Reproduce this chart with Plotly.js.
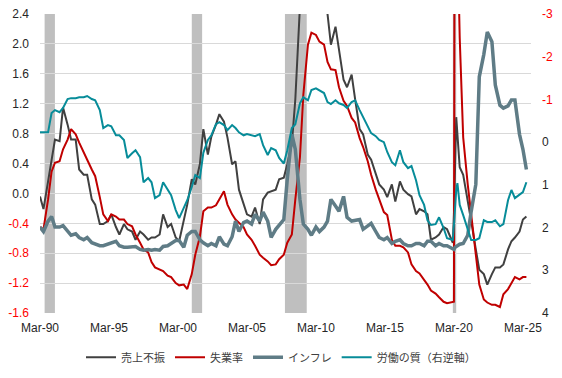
<!DOCTYPE html>
<html>
<head>
<meta charset="utf-8">
<script src="https://cdn.plot.ly/plotly-3.0.1.min.js"></script>
<style>html,body{margin:0;padding:0;background:#fff;}#chart{width:562px;height:378px;}</style>
</head>
<body>
<div id="chart"></div>
<script>
// ---- Data ----
const dates = [
 "1990-03","1990-06","1990-10","1991-01","1991-04","1991-08","1991-11","1992-03","1992-06","1992-10",
 "1993-01","1993-05","1993-08","1993-12","1994-03","1994-07","1994-10","1995-02","1995-05","1995-09",
 "1995-12","1996-04","1996-07","1996-11","1997-02","1997-06","1997-09","1998-01","1998-04","1998-07",
 "1998-11","1999-02","1999-06","1999-09","2000-01","2000-04","2000-08","2000-11","2001-03","2001-06",
 "2001-10","2002-01","2002-05","2002-08","2002-12","2003-03","2003-07","2003-10","2004-02","2004-05",
 "2004-08","2004-12","2005-03","2005-07","2005-10","2006-02","2006-05","2006-09","2006-12","2007-04",
 "2007-07","2007-11","2008-02","2008-06","2008-09","2009-01","2009-04","2009-08","2009-11","2010-03",
 "2010-06","2010-10","2011-01","2011-04","2011-08","2011-11","2012-03","2012-06","2012-10","2013-01",
 "2013-05","2013-08","2013-12","2014-03","2014-07","2014-10","2015-02","2015-05","2015-09","2015-12",
 "2016-04","2016-07","2016-11","2017-02","2017-06","2017-09","2018-01","2018-04","2018-07","2018-11",
 "2019-02","2019-06","2019-09","2020-02","2020-03","2020-04","2020-05","2020-06","2020-07","2020-08",
 "2020-11","2021-03","2021-06","2021-10","2022-01","2022-05","2022-08","2022-12","2023-03","2023-07",
 "2023-10","2024-02","2024-05","2024-08","2024-12","2025-03","2025-06"
];

const salesWeak = [
 -0.04,-0.21,0.16,0.45,0.72,0.70,1.15,0.92,0.72,0.72,
 0.32,0.25,0.25,-0.08,-0.15,-0.41,-0.41,-0.37,-0.28,-0.45,
 -0.55,-0.41,-0.48,-0.51,-0.62,-0.51,-0.55,-0.62,-0.59,-0.59,
 -0.55,-0.28,-0.45,-0.41,-0.59,-0.64,-0.37,-0.15,0.19,0.12,
 0.39,0.86,0.52,0.76,0.92,1.06,0.96,0.75,0.39,0.43,
 0.05,-0.15,-0.28,-0.31,-0.19,-0.41,-0.08,0.01,0.03,0.05,
 0.19,0.21,0.39,0.66,1.26,2.5,2.9,3.2,3.3,3.1,
 2.9,2.65,2.4,1.99,2.23,1.93,1.52,1.42,1.59,1.26,
 0.86,0.79,0.52,0.45,0.25,0.12,0.05,-0.05,0.12,-0.11,
 0.16,0.05,-0.01,-0.04,-0.28,-0.21,-0.24,-0.28,-0.62,-0.59,
 -0.55,-0.45,-0.48,-0.66,-0.28,0.68,1.02,0.79,0.58,0.35,
 0.25,-0.08,-0.37,-0.75,-1.02,-1.08,-1.22,-1.08,-0.99,-0.99,
 -0.95,-0.75,-0.64,-0.59,-0.51,-0.35,-0.31
];

const unemployment = [
 -0.45,-0.48,-0.08,0.29,0.41,0.43,0.59,0.72,0.86,0.79,
 0.68,0.56,0.45,0.32,0.23,-0.05,-0.28,-0.37,-0.28,-0.31,
 -0.35,-0.35,-0.41,-0.44,-0.55,-0.66,-0.75,-0.79,-0.92,-0.99,
 -1.02,-1.04,-1.10,-1.12,-1.20,-1.23,-1.22,-1.28,-1.08,-0.82,
 -0.58,-0.24,-0.19,-0.19,-0.16,-0.08,0.03,-0.15,-0.28,-0.35,
 -0.39,-0.45,-0.55,-0.62,-0.70,-0.82,-0.86,-0.91,-0.96,-0.95,
 -0.88,-0.82,-0.66,-0.55,-0.08,0.48,1.32,1.99,2.15,2.12,
 2.03,1.99,1.76,1.66,1.65,1.42,1.24,1.17,1.01,0.95,
 0.74,0.62,0.43,0.25,0.05,-0.08,-0.25,-0.29,-0.62,-0.70,
 -0.70,-0.72,-0.79,-0.95,-1.04,-1.07,-1.15,-1.22,-1.30,-1.34,
 -1.39,-1.45,-1.47,-1.46,-1.45,9.0,6.0,4.0,2.8,2.08,
 0.75,0.12,-0.28,-0.75,-1.22,-1.42,-1.46,-1.49,-1.49,-1.52,
 -1.35,-1.28,-1.19,-1.12,-1.15,-1.12,-1.12
];

const inflation = [
 -0.45,-0.51,-0.37,-0.31,-0.45,-0.45,-0.43,-0.51,-0.56,-0.54,
 -0.59,-0.62,-0.59,-0.66,-0.68,-0.70,-0.70,-0.68,-0.66,-0.64,
 -0.70,-0.72,-0.72,-0.72,-0.71,-0.75,-0.76,-0.75,-0.76,-0.75,
 -0.76,-0.71,-0.70,-0.67,-0.63,-0.63,-0.72,-0.56,-0.51,-0.51,
 -0.62,-0.66,-0.70,-0.67,-0.70,-0.58,-0.68,-0.70,-0.58,-0.37,
 -0.51,-0.39,-0.37,-0.41,-0.28,-0.37,-0.25,-0.37,-0.59,-0.48,
 -0.43,-0.35,0.19,0.79,0.59,-0.08,-0.41,-0.48,-0.56,-0.45,
 -0.51,-0.45,-0.37,-0.08,-0.17,-0.24,-0.04,-0.32,-0.37,-0.36,
 -0.35,-0.48,-0.43,-0.40,-0.51,-0.59,-0.62,-0.59,-0.67,-0.64,
 -0.62,-0.67,-0.70,-0.70,-0.67,-0.67,-0.70,-0.64,-0.64,-0.70,
 -0.67,-0.70,-0.70,-0.74,-0.75,-0.72,-0.71,-0.70,-0.70,-0.68,
 -0.67,-0.56,-0.24,0.12,1.56,1.86,2.16,2.03,1.45,1.18,
 1.14,1.17,1.25,1.25,0.79,0.59,0.32
];

const laborQuality = [
 -0.23,-0.23,-0.23,-0.68,-0.75,-0.70,-0.80,-1.01,-1.03,-1.03,
 -1.05,-1.05,-1.08,-1.01,-0.98,-0.75,-0.33,-0.40,-0.37,-0.16,
 -0.16,-0.05,0.37,0.26,0.19,0.35,0.94,0.84,0.94,1.31,
 1.24,0.94,1.12,1.24,1.59,1.78,1.54,1.36,1.05,0.77,
 0.84,0.25,-0.05,-0.16,-0.42,-0.47,-0.40,-0.28,-0.40,-0.33,
 -0.23,-0.16,-0.19,-0.16,-0.14,-0.19,0.07,0.30,0.14,0.19,
 0.37,0.50,0.19,-0.33,-0.42,-0.91,-1.05,-0.98,-1.22,-1.26,
 -1.22,-1.15,-0.94,-0.89,-0.98,-0.91,-0.87,-0.80,-0.94,-0.98,
 -0.75,-0.59,-0.40,-0.21,-0.14,-0.05,0.00,0.23,0.47,0.54,
 0.19,0.47,0.61,0.56,0.89,1.24,1.47,1.83,1.94,1.92,
 1.76,2.01,2.25,2.29,1.94,1.47,1.12,0.96,1.24,1.47,
 1.71,2.01,2.29,2.29,2.25,1.83,1.87,1.87,1.83,1.97,
 1.92,1.36,1.12,1.31,1.22,1.17,0.94
];

const recStart = ["1990-07-01","2001-03-01","2007-12-01","2020-02-01"];
const recEnd   = ["1991-03-31","2001-11-30","2009-06-30","2020-04-30"];

const xTickVals = ["1990-03-01","1995-03-01","2000-03-01","2005-03-01","2010-03-01","2015-03-01","2020-03-01","2025-03-01"];
const xTickText = ["Mar-90","Mar-95","Mar-00","Mar-05","Mar-10","Mar-15","Mar-20","Mar-25"];
const yTickVals = [2.4,2.0,1.6,1.2,0.8,0.4,0.0,-0.4,-0.8,-1.2,-1.6];
const y2TickVals = [-3,-2,-1,0,1,2,3,4];

const names = ["売上不振","失業率","インフレ","労働の質（右逆軸）"];

// ---- Build ----
function colorLabel(v, dec){
  const s = v.toFixed(dec);
  return v < 0 ? '<span style="color:#FF0000">' + s + '</span>' : s;
}

const traces = [
  {x: dates, y: salesWeak, name: names[0], type:'scatter', mode:'lines',
   line:{color:'#404040', width:2}},
  {x: dates, y: unemployment, name: names[1], type:'scatter', mode:'lines',
   line:{color:'#C00000', width:2}},
  {x: dates, y: inflation, name: names[2], type:'scatter', mode:'lines',
   line:{color:'#5F7C86', width:3.5}},
  {x: dates, y: laborQuality, name: names[3], type:'scatter', mode:'lines', yaxis:'y2',
   line:{color:'#078C99', width:2}}
];

const shapes = recStart.map((s,i)=>({
  type:'rect', xref:'x', yref:'paper', x0:s, x1:recEnd[i], y0:0, y1:1,
  fillcolor:'#BFBFBF', line:{width:0}, layer:'between'
}));

const font = 'Liberation Sans, Arial, Noto Sans CJK JP, sans-serif';

const layout = {
  width:562, height:378,
  margin:{l:40, r:31, t:14, b:65, pad:0, autoexpand:false},
  paper_bgcolor:'#ffffff', plot_bgcolor:'#ffffff',
  font:{family:font, size:12, color:'#262626'},
  showlegend:true,
  legend:{orientation:'h', x:0.5, xanchor:'center', xref:'container',
          y:0.055, yanchor:'middle', yref:'container',
          font:{family:'Noto Sans CJK JP, Liberation Sans, sans-serif', size:11, color:'#404040'},
          traceorder:'normal', itemwidth:30},
  xaxis:{type:'date', range:['1990-03-01','2025-10-01'], tickmode:'array', automargin:false,
         tickvals:xTickVals, ticktext:xTickText, showgrid:false, zeroline:false,
         showline:false, ticks:'', ticklabelstandoff:6, tickfont:{size:12, color:'#262626'}},
  yaxis:{range:[-1.6,2.4], tickmode:'array', tickvals:yTickVals, automargin:false,
         ticktext:yTickVals.map(v=>colorLabel(v,1)),
         showgrid:true, gridcolor:'#D9D9D9', gridwidth:1, zeroline:false, showline:false,
         ticks:'', ticklabelstandoff:10, tickfont:{size:12, color:'#262626'}},
  yaxis2:{overlaying:'y', side:'right', range:[4,-3], tickmode:'array', tickvals:y2TickVals,
          ticktext:y2TickVals.map(v=>colorLabel(v,0)), automargin:false,
          showgrid:false, zeroline:false, showline:false, ticks:'', ticklabelstandoff:10,
          tickfont:{size:12, color:'#262626'}},
  shapes:shapes
};

Plotly.newPlot('chart', traces, layout, {displayModeBar:false, staticPlot:true});
</script>
</body>
</html>
